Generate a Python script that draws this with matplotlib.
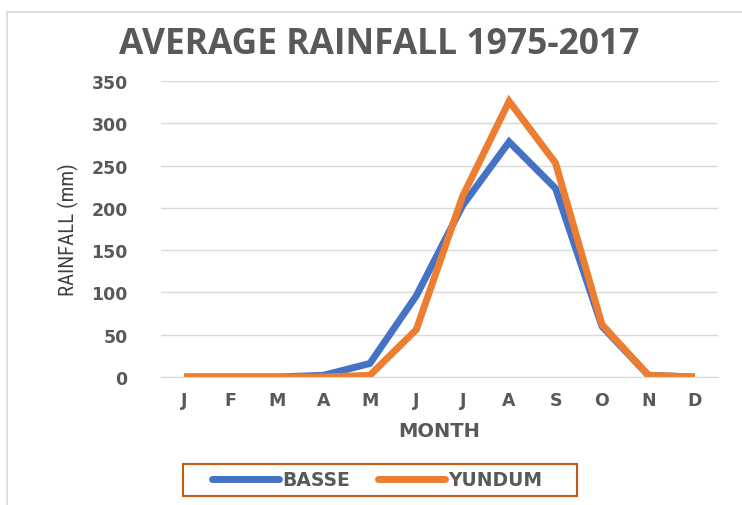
import matplotlib
matplotlib.use("Agg")
import matplotlib.pyplot as plt
from matplotlib.patches import Rectangle

months = ["J", "F", "M", "A", "M", "J", "J", "A", "S", "O", "N", "D"]
basse = [0, 0, 0, 2, 16, 96, 203, 278, 223, 60, 2, 0]
yundum = [0, 0, 0, 0, 2, 56, 214, 326, 253, 62, 2, 0]
yticks = [0, 50, 100, 150, 200, 250, 300, 350]

blue = "#4472C4"
orange = "#ED7D31"
grey = "#595959"

fig = plt.figure(figsize=(7.42, 5.06), dpi=100)
fig.patch.set_facecolor("white")
fig.patches.append(Rectangle((7/742, -0.1), 1.2, (1 - 13/506) + 0.1, transform=fig.transFigure,
                             fill=False, edgecolor="#D9D9D9", linewidth=1.2))

ax = fig.add_axes([161/742, 1 - 378/506, (718 - 161)/742, (378 - 82)/506])
x = list(range(len(months)))
ax.plot(x, basse, color=blue, linewidth=5, solid_joinstyle="miter", solid_capstyle="butt", label="BASSE")
ax.plot(x, yundum, color=orange, linewidth=5, solid_joinstyle="miter", solid_capstyle="butt", label="YUNDUM")

ax.set_xlim(-0.5, 11.5)
ax.set_ylim(0, 350)
ax.set_yticks(yticks)
ax.set_xticks(x)
ax.set_xticklabels(months)
ax.grid(axis="y", color="#D9D9D9", linewidth=1)
ax.set_axisbelow(True)
for s in ["top", "right", "left"]:
    ax.spines[s].set_visible(False)
ax.spines["bottom"].set_color("#D9D9D9")
ax.tick_params(length=0, labelsize=12.5, labelcolor=grey, pad=10)
for lab in ax.get_xticklabels() + ax.get_yticklabels():
    lab.set_fontweight("bold")
    lab.set_family("DejaVu Sans")
ax.tick_params(axis="y", pad=24)

ax.set_xlabel("MONTH", fontsize=14, fontweight="bold", color=grey, family="DejaVu Sans", labelpad=9)
fig.text(68/742, 1 - 230/506, "RAINFALL (mm)", rotation=90, ha="center", va="center",
         fontsize=15, color="#404040",
         family=["Liberation Sans Narrow", "DejaVu Sans Condensed", "Roboto Condensed", "DejaVu Sans"])

fig.text(379/742, 1 - 45/506, "AVERAGE RAINFALL 1975-2017", ha="center", va="center",
         fontsize=25.5, fontweight="bold", color=grey, family="Open Sans")

leg = fig.legend(loc="center", bbox_to_anchor=(377/742, 1 - 481/506), ncol=2, frameon=False,
                 handlelength=3.6, handletextpad=0.15,
                 columnspacing=1.5, borderpad=0.35, borderaxespad=0,
                 prop={"family": "DejaVu Sans", "weight": "bold", "size": 13.5})
for t in leg.get_texts():
    t.set_color(grey)
for h in leg.get_lines():
    h.set_solid_capstyle("round")
    h.set_linewidth(5)
fig.patches.append(Rectangle((183/742, 1 - 497/506), (577 - 183)/742, 32/506, transform=fig.transFigure,
                             fill=False, edgecolor="#C55A11", linewidth=1.5))

fig.savefig("out.png", dpi=100, facecolor="white")
